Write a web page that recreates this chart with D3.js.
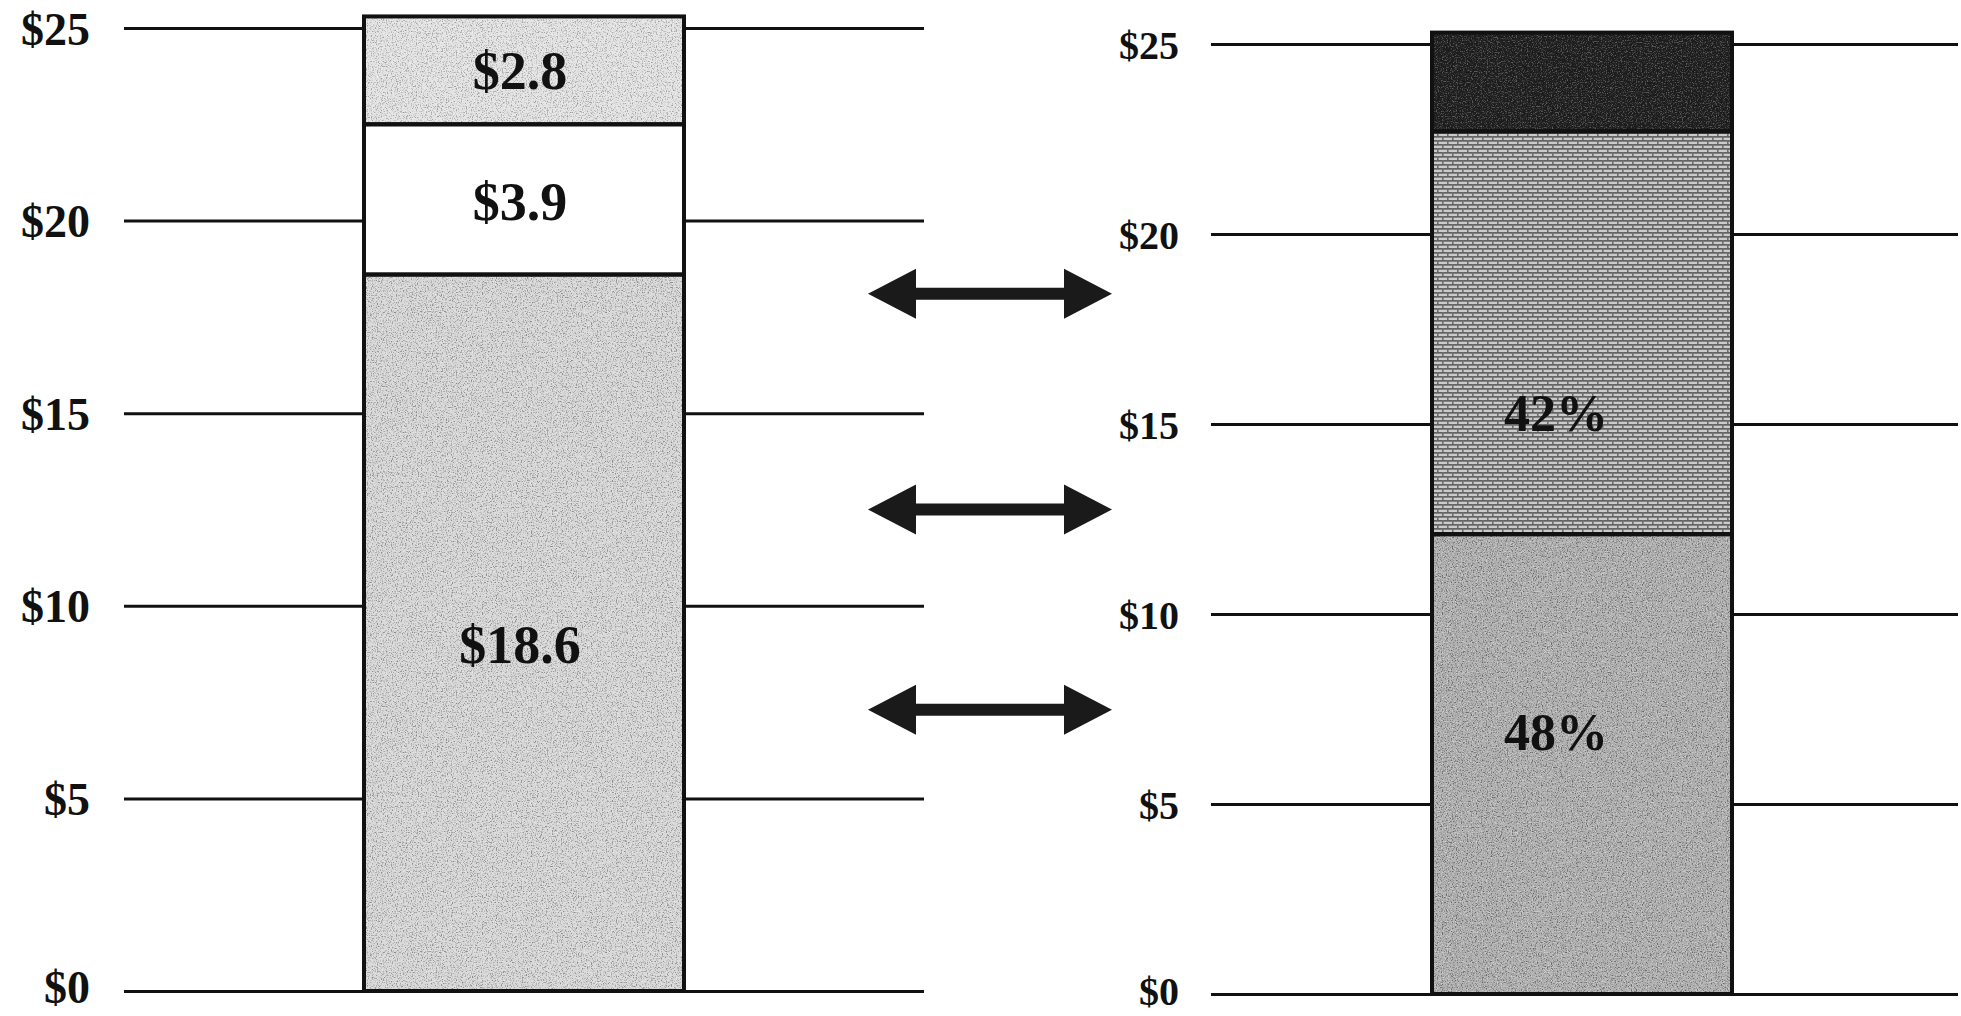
<!DOCTYPE html>
<html>
<head>
<meta charset="utf-8">
<script src="https://cdn.jsdelivr.net/npm/d3@7"></script>
<style>
  html, body { margin: 0; padding: 0; background: #ffffff; }
  svg { display: block; }
  .tick text { font-family: "Liberation Serif", "Times New Roman", serif; font-weight: bold; fill: #111; }
  .tick line { stroke: #111; stroke-width: 3; }
</style>
</head>
<body>
<svg id="chart" width="1961" height="1016"></svg>
<script>
// ---- data ----
const tickValues = [0, 5, 10, 15, 20, 25];
const leftSegments = ["Segment A", "Segment B", "Segment C"];
const leftValues = [18.6, 3.9, 2.8];
const leftLabels = ["$18.6", "$3.9", "$2.8"];
const leftLabelAt = [9.0, 20.5, 23.9];
const rightSegments = ["Share 1", "Share 2", "Share 3"];
const rightValues = [12.1, 10.6, 2.6];
const rightLabels = ["48%", "42%", ""];
const rightLabelAt = [6.9, 15.3, 0];
const arrowsAt = [18.1, 12.5, 7.3];

// ---- setup ----
const svg = d3.select("#chart");
const defs = svg.append("defs");

// dark speckle filter
const f = defs.append("filter").attr("id", "noiseDark").attr("x", 0).attr("y", 0).attr("width", "100%").attr("height", "100%");
f.append("feTurbulence").attr("type", "fractalNoise").attr("baseFrequency", 0.8).attr("numOctaves", 2).attr("seed", 3).attr("result", "t");
f.append("feColorMatrix").attr("in", "t").attr("type", "matrix")
  .attr("values", "0 0 0 0 0  0 0 0 0 0  0 0 0 0 0  4 0 0 0 -2.0");
// light speckle filter
const f2 = defs.append("filter").attr("id", "noiseLight").attr("x", 0).attr("y", 0).attr("width", "100%").attr("height", "100%");
f2.append("feTurbulence").attr("type", "fractalNoise").attr("baseFrequency", 0.8).attr("numOctaves", 2).attr("seed", 11).attr("result", "t");
f2.append("feColorMatrix").attr("in", "t").attr("type", "matrix")
  .attr("values", "0 0 0 0 1  0 0 0 0 1  0 0 0 0 1  4 0 0 0 -2.0");

// brick pattern
const brick = defs.append("pattern").attr("id", "brick").attr("patternUnits", "userSpaceOnUse")
  .attr("width", 10).attr("height", 8);
brick.append("rect").attr("width", 10).attr("height", 8).attr("fill", "#cbcbcb");
brick.append("rect").attr("x", 0).attr("y", 0).attr("width", 10).attr("height", 1.7).attr("fill", "#626262");
brick.append("rect").attr("x", 0).attr("y", 4).attr("width", 10).attr("height", 1.7).attr("fill", "#626262");
brick.append("rect").attr("x", 2).attr("y", 0).attr("width", 1.6).attr("height", 4).attr("fill", "#6e6e6e");
brick.append("rect").attr("x", 7).attr("y", 4).attr("width", 1.6).attr("height", 4).attr("fill", "#6e6e6e");

const leftFills = ["#d8d8d8", "#ffffff", "#e4e4e4"];
const rightFills = ["#b0b0b0", "url(#brick)", "#1f1f1f"];
const leftNoise = [0.35, 0, 0.3];
const rightNoise = [0.4, 0.0, 0.28];

function panel(cfg) {
  const y = d3.scaleLinear().domain([0, 25]).range([cfg.y0, cfg.y25]);
  const axis = d3.axisLeft(y).tickValues(tickValues).tickFormat(d => "$" + d)
    .tickSizeInner(cfg.gridRight - cfg.gridLeft).tickSizeOuter(0).tickPadding(cfg.pad);
  const g = svg.append("g").attr("transform", `translate(${cfg.gridRight},0)`).call(axis);
  g.select(".domain").remove();
  g.selectAll(".tick text").style("font-size", cfg.tickFont + "px")
    .attr("dy", d => d === 0 ? "0.25em" : "0.35em");

  const stack = d3.cumsum(cfg.values);
  const segs = cfg.values.map((v, i) => ({ v, i, y0: stack[i] - v, y1: stack[i] }));
  const x = d3.scaleBand().domain(["bar"]).range([cfg.barLeft, cfg.barRight]).padding(0);
  const bg = svg.append("g");
  bg.selectAll("rect.fill").data(segs).join("rect").attr("class", "fill")
    .attr("x", x("bar")).attr("width", x.bandwidth())
    .attr("y", d => y(d.y1)).attr("height", d => y(d.y0) - y(d.y1))
    .attr("fill", d => cfg.fills[d.i]);
  const noisy = segs.filter(d => cfg.noise[d.i] > 0);
  ["noiseDark", "noiseLight"].forEach(fid => {
    bg.selectAll("rect." + fid).data(noisy).join("rect").attr("class", fid)
      .attr("x", x("bar")).attr("width", x.bandwidth())
      .attr("y", d => y(d.y1)).attr("height", d => y(d.y0) - y(d.y1))
      .attr("filter", `url(#${fid})`).attr("opacity", d => cfg.noise[d.i]);
  });
  bg.selectAll("rect.edge").data(segs).join("rect").attr("class", "edge")
    .attr("x", x("bar")).attr("width", x.bandwidth())
    .attr("y", d => y(d.y1)).attr("height", d => y(d.y0) - y(d.y1))
    .attr("fill", "none").attr("stroke", "#111").attr("stroke-width", 4);
  bg.selectAll("text.lbl").data(segs.filter(d => cfg.labels[d.i])).join("text").attr("class", "lbl")
    .attr("x", x("bar") + x.bandwidth() / 2 + cfg.labelDx)
    .attr("y", d => y(cfg.labelAt[d.i]))
    .attr("dy", "0.35em").attr("text-anchor", "middle")
    .style("font-family", '"Liberation Serif", "Times New Roman", serif')
    .style("font-weight", "bold").style("font-size", cfg.labelFont + "px").attr("fill", "#111")
    .text(d => cfg.labels[d.i]);
  return y;
}

const yL = panel({ y0: 991, y25: 28, gridLeft: 124, gridRight: 924, pad: 34, tickFont: 46,
  barLeft: 364, barRight: 684, values: leftValues, fills: leftFills, noise: leftNoise,
  labels: leftLabels, labelAt: leftLabelAt, labelFont: 54, labelDx: -4 });
const yR = panel({ y0: 994, y25: 44, gridLeft: 1211, gridRight: 1958, pad: 32, tickFont: 40,
  barLeft: 1432, barRight: 1732, values: rightValues, fills: rightFills, noise: rightNoise,
  labels: rightLabels, labelAt: rightLabelAt, labelFont: 52, labelDx: -26 });

// double-headed arrows
const ax0 = 868, ax1 = 1112, head = 48, halfH = 25, shaft = 6;
svg.append("g").selectAll("path").data(arrowsAt).join("path")
  .attr("d", v => {
    const cy = yL(v);
    return `M${ax0},${cy} L${ax0 + head},${cy - halfH} L${ax0 + head},${cy - shaft} L${ax1 - head},${cy - shaft}
      L${ax1 - head},${cy - halfH} L${ax1},${cy} L${ax1 - head},${cy + halfH} L${ax1 - head},${cy + shaft}
      L${ax0 + head},${cy + shaft} L${ax0 + head},${cy + halfH} Z`;
  })
  .attr("fill", "#1a1a1a");
</script>
</body>
</html>
